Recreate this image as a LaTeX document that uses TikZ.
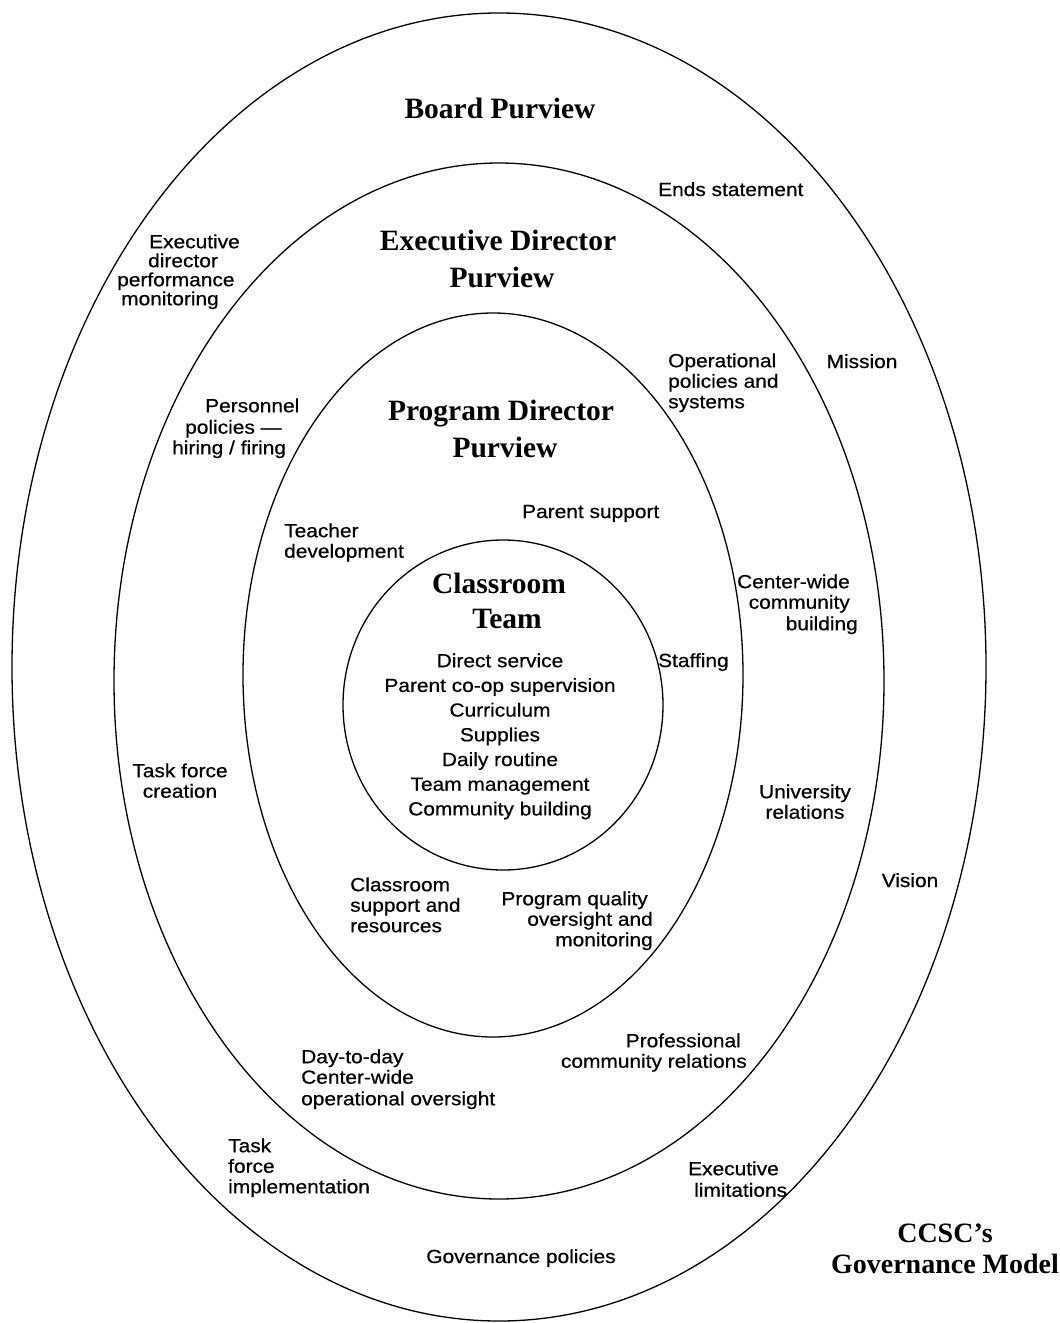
\documentclass[tikz,border=0pt]{standalone}
\usepackage{fontspec}
\setmainfont{Liberation Sans}[FakeStretch=1.1,FakeBold=0.6]
\newfontfamily\titlefont{Liberation Serif}
\newfontfamily\capfont{Liberation Serif}
\newcommand\fl{\rule{0pt}{16pt}}
\newcommand\tl{\rule{0pt}{24pt}}
\begin{document}
\begin{tikzpicture}[x=1pt,y=-1pt,
  ring/.style={draw, line width=1.3pt},
  lbl/.style={inner sep=0pt, font=\fontsize{19}{20.5}\selectfont},
  ttl/.style={inner sep=0pt, align=center, font=\titlefont\bfseries\fontsize{29.5}{37}\selectfont},
  captext/.style={inner sep=0pt, align=center, font=\capfont\bfseries\fontsize{28}{31}\selectfont}]
\useasboundingbox (0,0) rectangle (1060,1323);
% rings
\draw[ring] (499,667) ellipse [x radius=487pt, y radius=654pt];
\draw[ring] (499,681) ellipse [x radius=385pt, y radius=518pt];
\draw[ring] (493,675) ellipse [x radius=250pt, y radius=362pt];
\draw[ring] (503,705) ellipse [x radius=160pt, y radius=165pt];
% titles
\node[ttl, anchor=base] (board) at (500,118) {Board Purview};
\node[ttl, anchor=north] (exec) at (498,226) {\tl Executive Director\\\hspace*{8pt}Purview};
\node[ttl, anchor=north] (prog) at (501,396) {\tl Program Director\\\hspace*{8pt}Purview};
\node[ttl, anchor=north] (team) at (499,569) {\tl Classroom\\[-2pt]\hspace*{16pt}Team};
\node[lbl, anchor=north, align=center, font=\fontsize{19}{24.7}\selectfont] (teamlist) at (500,651)
  {\fl Direct service\\Parent co-op supervision\\Curriculum\\Supplies\\Daily routine\\Team management\\Community building};
% board ring labels
\node[lbl, anchor=base west] (ends) at (658,196) {Ends statement};
\node[lbl, anchor=base] (mission) at (862,368) {Mission};
\node[lbl, anchor=base] (vision) at (910,887) {Vision};
\node[lbl, anchor=north west, align=left] (edpm) at (117,232)
  {\fl\hspace*{32pt}Executive\\[-1.5pt]\hspace*{31pt}director\\[-1.5pt]performance\\[-1.5pt]\hspace*{4pt}monitoring};
\node[lbl, anchor=north, align=center] (tfc) at (180,761) {\fl Task force\\creation};
\node[lbl, anchor=north west, align=left] (tfi) at (228,1136) {\fl Task\\force\\implementation};
\node[lbl, anchor=north west, align=left] (exlim) at (688,1159) {\fl Executive\\[1pt]\hspace*{6pt}limitations};
\node[lbl, anchor=base] (gov) at (521,1263) {Governance policies};
% executive director ring labels
\node[lbl, anchor=north west, align=left] (ops) at (668,351) {\fl Operational\\policies and\\systems};
\node[lbl, anchor=north west, align=left] (pers) at (172,396)
  {\fl\hspace*{33pt}Personnel\\[1pt]\hspace*{13pt}policies —\\hiring / firing};
\node[lbl, anchor=north east, align=right] (cwcb) at (850,572) {\fl Center-wide\\community\\[1pt]building\hspace*{-8pt}};
\node[lbl, anchor=north, align=center] (univ) at (805,782) {\fl University\\relations};
\node[lbl, anchor=north east, align=right] (prof) at (747,1031) {\fl Professional\hspace*{6pt}\\community relations};
\node[lbl, anchor=north west, align=left] (day) at (301,1047) {\fl Day-to-day\\Center-wide\\[1pt]operational oversight};
% program director ring labels
\node[lbl, anchor=base west] (parent) at (522,518) {Parent support};
\node[lbl, anchor=north west, align=left] (teacher) at (284,521) {\fl Teacher\\development};
\node[lbl, anchor=base west] (staff) at (658,667) {Staffing};
\node[lbl, anchor=north west, align=left] (csr) at (350,875) {\fl Classroom\\support and\\resources};
\node[lbl, anchor=north east, align=right] (pq) at (653,889) {\fl Program quality\hspace*{5pt}\\oversight and\\monitoring};
% caption
\node[captext, anchor=north] (caption) at (945,1218)
  {\rule{0pt}{24pt}CCSC’s\\Governance Model};
\end{tikzpicture}
\end{document}
